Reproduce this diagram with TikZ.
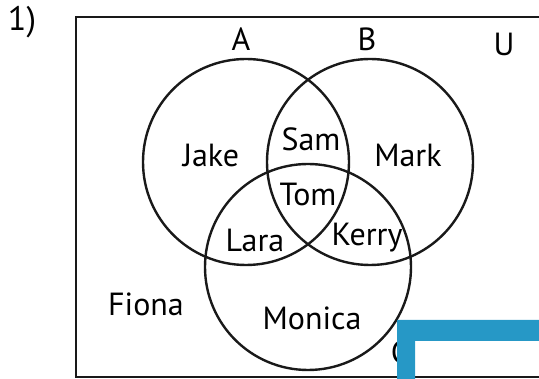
\documentclass[tikz,border=0pt]{standalone}
\usepackage{fontspec}
\setmainfont{PT Sans}
\usetikzlibrary{calc}

\definecolor{barblue}{RGB}{38,152,198}

\begin{document}
\begin{tikzpicture}[x=1pt,y=-1pt,
    every node/.style={font=\fontsize{32}{34}\selectfont, inner sep=0pt},
    setline/.style={line width=2.4pt, black!90}]
    \useasboundingbox (0,0) rectangle (539,379);
    \draw[line width=2.6pt, black!90] (539,17) -- (76,17) -- (76,377) -- (539,377);
    \node (num) at (22,22) [font=\fontsize{34}{36}\selectfont] {1)};
    \node (setA) at (246,162) [setline, draw, circle, minimum size=206pt] {};
    \node (setB) at (370,162) [setline, draw, circle, minimum size=206pt] {};
    \node (setC) at (308,267) [setline, draw, circle, minimum size=206pt] {};
    \node (labA) at (241,39) {A};
    \node (labB) at (367,39) {B};
    \node (labU) at (504,44) {U};
    \node (labC) at (400,352) {C};
    \node (jake) at (211,155) {Jake};
    \node (sam) at (311,139) {Sam};
    \node (mark) at (408,155) {Mark};
    \node (tom) at (308,194) {Tom};
    \node (lara) at (255,240) {Lara};
    \node (kerry) at (367,238) {Kerry};
    \node (fiona) at (146,304) {Fiona};
    \node (monica) at (312,318) {Monica};
    \fill[barblue] (397,320) -- (545,320) -- (545,341) -- (415,341) -- (415,385) -- (397,385) -- cycle;
\end{tikzpicture}
\end{document}
